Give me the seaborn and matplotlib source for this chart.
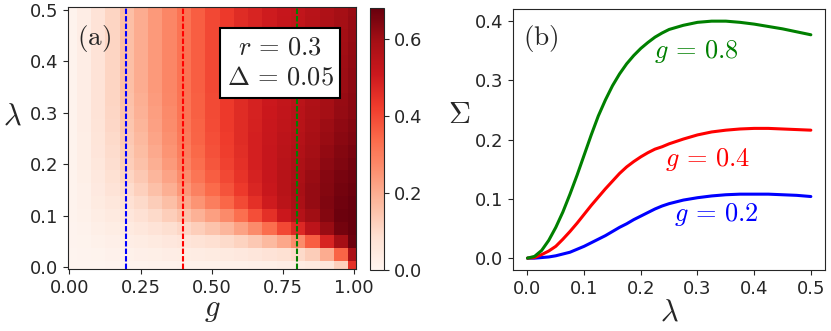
import numpy as np
import pandas as pd
import seaborn as sns
import matplotlib
matplotlib.use('Agg')
import matplotlib.pyplot as plt

# ---- panel (a): map over coupling g and lambda ----
g_vals = [0.00, 0.05, 0.10, 0.15, 0.20, 0.25, 0.30, 0.35, 0.40, 0.45, 0.50,
          0.55, 0.60, 0.65, 0.70, 0.75, 0.80, 0.85, 0.90, 0.95, 1.00]
lam_rows = [0.000, 0.025, 0.050, 0.075, 0.100, 0.125, 0.150, 0.175, 0.200, 0.225, 0.250,
            0.275, 0.300, 0.325, 0.350, 0.375, 0.400, 0.425, 0.450, 0.475, 0.500]

# one row per lambda value (bottom to top), one entry per g value
sigma_map = [
    [.003, .004, .005, .006, .008, .010, .012, .013, .015, .016, .017, .019, .021, .023, .025, .030, .035, .045, .060, .120, .450],
    [.005, .007, .010, .014, .018, .022, .026, .030, .034, .037, .041, .045, .052, .060, .070, .080, .100, .130, .200, .350, .580],
    [.006, .010, .016, .022, .030, .037, .045, .055, .063, .072, .083, .097, .115, .140, .170, .210, .270, .360, .480, .590, .670],
    [.007, .013, .024, .034, .045, .056, .070, .087, .105, .125, .150, .180, .222, .270, .330, .400, .470, .540, .610, .660, .680],
    [.008, .017, .032, .045, .060, .078, .100, .125, .155, .190, .228, .272, .328, .390, .450, .510, .560, .600, .640, .670, .680],
    [.008, .019, .040, .058, .078, .100, .130, .162, .205, .250, .297, .345, .398, .450, .500, .545, .580, .615, .645, .665, .675],
    [.008, .021, .047, .070, .095, .122, .157, .195, .243, .290, .337, .380, .428, .475, .515, .555, .585, .615, .640, .660, .670],
    [.008, .024, .053, .080, .110, .140, .178, .220, .268, .315, .360, .400, .442, .485, .520, .555, .580, .610, .635, .655, .665],
    [.008, .027, .058, .088, .125, .155, .195, .237, .285, .330, .375, .412, .450, .490, .520, .550, .575, .600, .625, .645, .660],
    [.008, .028, .062, .094, .132, .166, .207, .250, .297, .341, .384, .420, .456, .490, .518, .545, .568, .593, .618, .638, .653],
    [.008, .029, .066, .100, .140, .175, .217, .260, .305, .348, .390, .425, .460, .490, .516, .540, .560, .585, .610, .630, .645],
    [.008, .030, .068, .104, .145, .183, .225, .268, .311, .352, .394, .428, .460, .488, .513, .535, .555, .580, .603, .622, .638],
    [.008, .030, .070, .107, .150, .190, .231, .273, .315, .356, .397, .430, .460, .486, .510, .530, .550, .575, .595, .615, .630],
    [.008, .030, .070, .109, .155, .196, .236, .277, .318, .358, .398, .430, .460, .485, .508, .528, .547, .571, .591, .611, .628],
    [.008, .030, .070, .110, .160, .200, .240, .280, .320, .360, .400, .430, .460, .484, .507, .527, .545, .568, .588, .608, .626],
    [.008, .030, .070, .110, .160, .200, .240, .280, .320, .360, .400, .430, .460, .483, .505, .525, .542, .565, .585, .605, .623],
    [.008, .030, .070, .110, .160, .200, .240, .280, .320, .360, .400, .430, .460, .482, .504, .524, .540, .562, .582, .602, .620],
    [.008, .030, .070, .110, .160, .200, .240, .280, .320, .360, .400, .430, .460, .481, .503, .523, .538, .560, .580, .600, .618],
    [.008, .030, .070, .110, .160, .200, .240, .280, .320, .360, .400, .430, .460, .481, .502, .522, .536, .557, .577, .597, .616],
    [.008, .030, .070, .110, .160, .200, .240, .280, .320, .360, .400, .430, .460, .480, .501, .521, .533, .553, .573, .593, .613],
    [.008, .030, .070, .110, .160, .200, .240, .280, .320, .360, .400, .430, .460, .480, .500, .520, .530, .550, .570, .590, .610],
]
cut_g = [0.2, 0.4, 0.8]
cut_colors = ['blue', 'red', 'green']

# ---- panel (b): Sigma(lambda) along the three cuts ----
lam = [0.0, 0.0125, 0.025, 0.0375, 0.05, 0.0625, 0.075, 0.0875, 0.1, 0.1125, 0.125,
       0.1375, 0.15, 0.1625, 0.175, 0.1875, 0.2, 0.2125, 0.225, 0.2375, 0.25,
       0.275, 0.3, 0.325, 0.35, 0.375, 0.4, 0.425, 0.45, 0.475, 0.5]
sigma_g02 = [0.000, 0.000, 0.001, 0.002, 0.004, 0.007, 0.010, 0.015, 0.020, 0.026, 0.032,
             0.038, 0.045, 0.052, 0.058, 0.065, 0.071, 0.077, 0.083, 0.088, 0.092,
             0.098, 0.102, 0.105, 0.107, 0.108, 0.108, 0.108, 0.107, 0.106, 0.104]
sigma_g04 = [0.000, 0.001, 0.006, 0.012, 0.020, 0.032, 0.045, 0.059, 0.074, 0.089, 0.103,
             0.117, 0.130, 0.143, 0.154, 0.163, 0.171, 0.178, 0.184, 0.188, 0.193,
             0.201, 0.208, 0.213, 0.216, 0.218, 0.219, 0.219, 0.218, 0.217, 0.216]
sigma_g08 = [0.000, 0.003, 0.013, 0.030, 0.052, 0.078, 0.108, 0.140, 0.174, 0.208, 0.240,
             0.267, 0.291, 0.311, 0.328, 0.342, 0.354, 0.364, 0.373, 0.380, 0.386,
             0.393, 0.398, 0.400, 0.400, 0.398, 0.395, 0.391, 0.387, 0.382, 0.377]

sns.set_style('ticks')
plt.rcParams['font.family'] = ['DejaVu Sans']
plt.rcParams['mathtext.fontset'] = 'cm'
plt.rcParams['xtick.labelsize'] = 13
plt.rcParams['ytick.labelsize'] = 13

fig = plt.figure(figsize=(8.31, 3.31), dpi=100)
ax_a = fig.add_axes([0.0815, 0.1864, 0.3469, 0.7915])
cax = fig.add_axes([0.4452, 0.1843, 0.0169, 0.7906])
ax_b = fig.add_axes([0.6177, 0.1843, 0.3751, 0.7876])

# (a) heat map
dg = g_vals[1] - g_vals[0]
dl = lam_rows[1] - lam_rows[0]
im = ax_a.imshow(np.array(sigma_map), origin='lower', cmap='Reds', vmin=0, vmax=0.68,
                 aspect='auto', interpolation='nearest',
                 extent=[g_vals[0] - dg / 2, g_vals[-1] + dg / 2,
                         lam_rows[0] - dl / 2, lam_rows[-1] + dl / 2])
for gx, c in zip(cut_g, cut_colors):
    ax_a.axvline(gx, color=c, lw=1.5, ls=(0, (2.6, 1.0)))
ax_a.set_xlim(-0.006, 1.006)
ax_a.set_ylim(-0.004, 0.505)
ax_a.set_xticks([0, 0.25, 0.5, 0.75, 1.0])
ax_a.set_xticklabels(['0.00', '0.25', '0.50', '0.75', '1.00'])
ax_a.set_yticks([0, 0.1, 0.2, 0.3, 0.4, 0.5])
ax_a.set_xlabel(r'$g$', fontsize=22, va='center')
ax_a.xaxis.set_label_coords(0.5, -0.155)
ax_a.set_ylabel(r'$\lambda$', fontsize=22, rotation=0, va='center', ha='center')
ax_a.yaxis.set_label_coords(-0.191, 0.585)
ax_a.text(0.085, 0.444, r'$\mathrm{(a)}$', fontsize=19.5, ha='center', va='center')
ax_a.text(0.74, 0.397, '$r\\,=\\,0.3$\n$\\Delta\\,=\\,0.05$', fontsize=19, ha='center',
          va='center', multialignment='center',
          bbox=dict(boxstyle='square,pad=0.25', fc='white', ec='black', lw=1.5))

cb = fig.colorbar(im, cax=cax, ticks=[0, 0.2, 0.4, 0.6], format='%.1f')
cb.ax.tick_params(labelsize=13)

# (b) line cuts
df = pd.DataFrame({
    'lam': lam * 3,
    'sigma': sigma_g02 + sigma_g04 + sigma_g08,
    'g': ['0.2'] * len(lam) + ['0.4'] * len(lam) + ['0.8'] * len(lam),
})
sns.lineplot(data=df, x='lam', y='sigma', hue='g',
             palette={'0.2': 'blue', '0.4': 'red', '0.8': 'green'},
             linewidth=2.2, legend=False, ax=ax_b)
ax_b.set_xticks([0, 0.1, 0.2, 0.3, 0.4, 0.5])
ax_b.set_yticks([0, 0.1, 0.2, 0.3, 0.4])
ax_b.set_xlabel(r'$\lambda$', fontsize=22, va='center')
ax_b.xaxis.set_label_coords(0.5, -0.16)
ax_b.set_ylabel(r'$\Sigma$', fontsize=22, rotation=0, va='center', ha='center')
ax_b.yaxis.set_label_coords(-0.173, 0.595)
ax_b.text(0.023, 0.370, r'$\mathrm{(b)}$', fontsize=19.5, ha='center', va='center')
ax_b.text(0.298, 0.349, r'$g\,=\,0.8$', fontsize=19, color='green', ha='center', va='center')
ax_b.text(0.317, 0.166, r'$g\,=\,0.4$', fontsize=19, color='red', ha='center', va='center')
ax_b.text(0.333, 0.073, r'$g\,=\,0.2$', fontsize=19, color='blue', ha='center', va='center')

fig.savefig('out.png', dpi=100)
